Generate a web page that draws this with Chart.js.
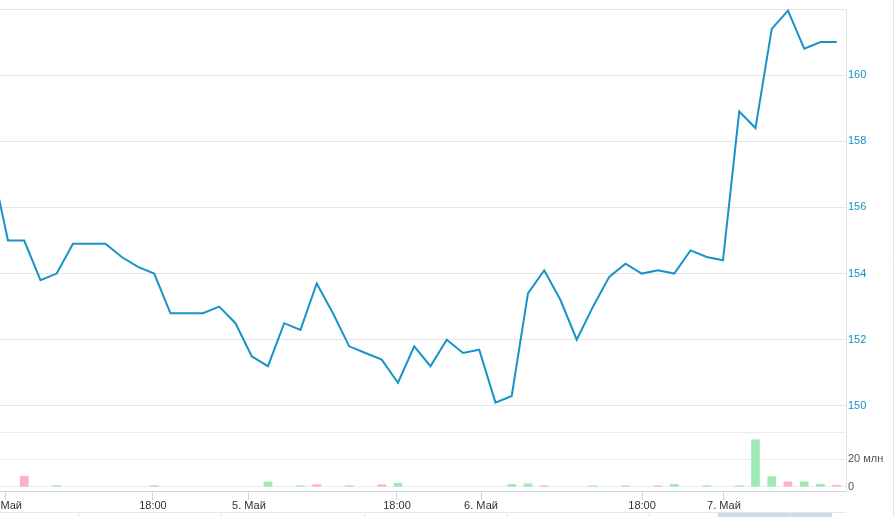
<!DOCTYPE html>
<html>
<head>
<meta charset="utf-8">
<script src="https://cdn.jsdelivr.net/npm/chart.js@4.4.1/dist/chart.umd.min.js"></script>
<style>
  body { margin: 0; background: #fff; }
  #wrap { width: 896px; height: 517px; }
</style>
</head>
<body>
<div id="wrap"><canvas id="priceChart" width="896" height="517"></canvas></div>
<script>
// price per hourly point, first one sits just left of the visible range
const prices = [
    157.3, 155.0, 155.0, 153.8, 154.0, 154.9, 154.9, 154.9, 154.5, 154.2,
    154.0, 152.8, 152.8, 152.8, 153.0, 152.5, 151.5, 151.2, 152.5, 152.3,
    153.7, 152.8, 151.8, 151.6, 151.4, 150.7, 151.8, 151.2, 152.0, 151.6,
    151.7, 150.1, 150.3, 153.4, 154.1, 153.2, 152.0, 153.0, 153.9, 154.3,
    154.0, 154.1, 154.0, 154.7, 154.5, 154.4, 158.9, 158.4, 161.4, 161.95,
    160.8, 161.0, 161.0
];
// volume in millions, split by candle direction (same indexes as prices)
const volUp = [
    0, 0, 0, 0, 0.9, 0, 0, 0, 0, 0,
    0, 0, 0, 0, 0, 0, 0, 3.5, 0, 0.8,
    0, 0, 0, 0, 0, 2.7, 0, 0, 0, 0,
    0, 0, 1.8, 2.2, 0, 0, 0, 0.8, 0, 0,
    0, 0, 1.8, 0, 0.8, 0, 0.8, 34.4, 7.5, 0,
    3.7, 2.0, 0
];
const volDown = [
    0, 0, 7.8, 0, 0, 0, 0, 0, 0, 0,
    0.8, 0, 0, 0, 0, 0, 0, 0, 0, 0,
    1.6, 0, 0.8, 0, 1.6, 0, 0, 0, 0, 0,
    0, 0, 0, 0, 0.8, 0, 0, 0, 0, 0.8,
    0, 0.8, 0, 0, 0, 0, 0, 0, 0, 3.7,
    0, 0, 1.2
];
const tickPos = [-0.18, 8.92, 14.83, 23.94, 29.11, 39.02, 44.06];
const tickText = ['4. Май', '18:00', '5. Май', '18:00', '6. Май', '18:00', '7. Май'];
const priceTicks = [150, 152, 154, 156, 158, 160, 162];
const volTicks = [0, 20, 40];

const pricePts = prices.map((p, i) => ({ x: i - 1, y: p }));
const upPts = volUp.map((v, i) => ({ x: i - 1, y: v || null }));
const downPts = volDown.map((v, i) => ({ x: i - 1, y: v || null }));

const font = { family: '"Liberation Sans", Arial, sans-serif', size: 11 };

// bottom strip of the navigator that peeks in under the axis
const navigatorStrip = {
    id: 'navigatorStrip',
    afterDraw(chart) {
        const c = chart.ctx;
        const right = chart.chartArea.right;
        c.save();
        c.fillStyle = 'rgba(102, 133, 194, 0.3)';
        c.fillRect(718, 512, 114, 5);
        c.strokeStyle = '#e6e6e6';
        c.lineWidth = 1;
        c.beginPath();
        c.moveTo(0, 512.5);
        c.lineTo(right, 512.5);
        [78, 221, 364, 507, 649, 790].forEach(x => {
            c.moveTo(x + 0.5, 512);
            c.lineTo(x + 0.5, 517);
        });
        c.moveTo(893.5, 0);
        c.lineTo(893.5, 517);
        c.stroke();
        c.restore();
    }
};

new Chart(document.getElementById('priceChart'), {
    data: {
        datasets: [
            {
                type: 'line',
                data: pricePts,
                yAxisID: 'y',
                borderColor: '#1793c7',
                borderWidth: 2,
                pointRadius: 0,
                tension: 0
            },
            {
                type: 'bar',
                data: upPts,
                yAxisID: 'yv',
                backgroundColor: '#9fe9b6',
                barThickness: 8,
                grouped: false
            },
            {
                type: 'bar',
                data: downPts,
                yAxisID: 'yv',
                backgroundColor: '#ffb0c8',
                barThickness: 8,
                grouped: false
            }
        ]
    },
    options: {
        responsive: false,
        animation: false,
        layout: { padding: { top: 9, left: 0, right: 0, bottom: 0 } },
        plugins: {
            legend: { display: false },
            tooltip: { enabled: false }
        },
        scales: {
            x: {
                type: 'linear',
                min: -0.49,
                max: 51.57,
                offset: false,
                afterBuildTicks: s => { s.ticks = tickPos.map(v => ({ value: v })); },
                afterFit: s => { s.height = 26; s.paddingLeft = 0; s.paddingRight = 0; },
                ticks: {
                    autoSkip: false,
                    maxRotation: 0,
                    padding: -1,
                    color: '#333',
                    font: font,
                    callback: (v, i) => tickText[i]
                },
                grid: { offset: false, drawOnChartArea: false, drawTicks: true, tickLength: 9, color: '#ccd6eb' },
                border: { color: '#ccd6eb' }
            },
            y: {
                type: 'linear',
                position: 'right',
                stack: 'panes',
                stackWeight: 423,
                min: 149.21,
                max: 162,
                afterBuildTicks: s => { s.ticks = priceTicks.map(v => ({ value: v })); },
                afterFit: s => { s.width = 50; s.paddingTop = 0; s.paddingBottom = 0; },
                ticks: {
                    autoSkip: false,
                    padding: 2,
                    color: '#1591c6',
                    font: font,
                    callback: v => (v === 162 ? '' : v)
                },
                grid: { color: '#e6e6e6', drawTicks: false },
                border: { color: '#e0e6f0' }
            },
            yv: {
                type: 'linear',
                position: 'right',
                stack: 'panes',
                stackWeight: 59,
                min: -3,
                max: 40,
                afterBuildTicks: s => { s.ticks = volTicks.map(v => ({ value: v })); },
                afterFit: s => { s.width = 50; s.paddingTop = 0; s.paddingBottom = 0; },
                ticks: {
                    autoSkip: false,
                    padding: 2,
                    color: '#555',
                    font: font,
                    callback: v => (v === 0 ? '0' : v === 20 ? '20 млн' : '')
                },
                grid: { color: '#ececec', drawTicks: false },
                border: { color: '#e0e6f0' }
            }
        }
    },
    plugins: [navigatorStrip]
});
</script>
</body>
</html>
